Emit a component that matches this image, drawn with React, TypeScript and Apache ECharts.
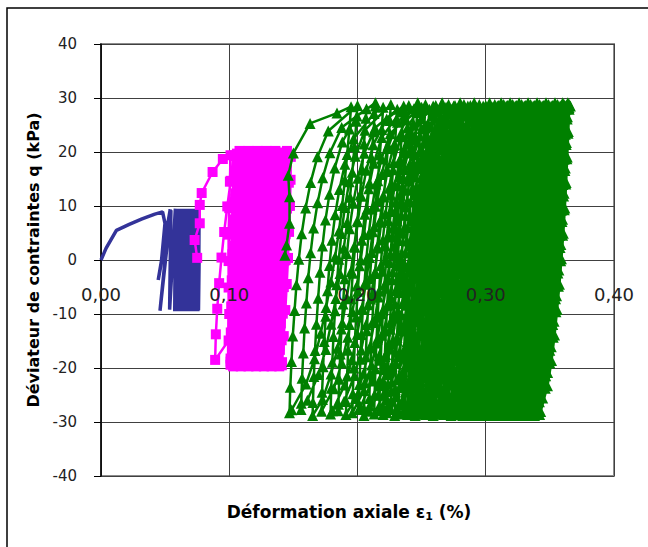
import React, { useEffect, useRef } from 'react';
import * as echarts from 'echarts';

type Pt = [number, number];

// ---- axes ----
const X_MIN = 0;
const X_MAX = 0.4;
const X_STEP = 0.1;
const Y_MIN = -40;
const Y_MAX = 40;
const Y_STEP = 10;
const yAxisTitle = 'Déviateur de contraintes q (kPa)';
const xAxisTitleMain = 'Déformation axiale ε';
const xAxisTitleSub = '1';
const xAxisTitleEnd = ' (%)';

// ---- series 1 (blue, about ±9 kPa) ----
const blueLead: Pt[] = [
  [0, 0], [0.004, 2.2], [0.012, 5.5], [0.022, 6.6], [0.032, 7.6], [0.042, 8.5], [0.048, 8.9],
  [0.0499, 6.8], [0.047, -0.6], [0.0446, -3.7],
];
const blueBottomX = [
  0.046, 0.0535, 0.0575, 0.058, 0.0585, 0.059, 0.0595, 0.060, 0.0605, 0.061, 0.0615, 0.062, 0.0625, 0.063,
  0.0635, 0.064, 0.0645, 0.065, 0.0655, 0.066, 0.0665, 0.067, 0.0675, 0.068, 0.0685, 0.069, 0.0695, 0.070,
  0.0705, 0.071, 0.0715, 0.072, 0.0725, 0.073, 0.0735, 0.074, 0.0745, 0.075, 0.0755, 0.076,
];
const blueTopX = [
  0.054, 0.0545, 0.058, 0.0585, 0.059, 0.0595, 0.060, 0.0605, 0.061, 0.0615, 0.062, 0.0625, 0.063, 0.0635,
  0.064, 0.0645, 0.065, 0.0655, 0.066, 0.0665, 0.067, 0.0675, 0.068, 0.0685, 0.069, 0.0695, 0.070, 0.0705,
  0.071, 0.0715, 0.072, 0.0725, 0.073, 0.0735, 0.074, 0.0745, 0.075, 0.0755, 0.076, 0.0765,
];
const bluePeakQ = [9.4, 9.2, 9.5, 9.3];
const blueTroughQ = [-9.4, -9.2, -9.5, -9.3];
const blueUpShapes: Pt[][] = [[[0, 0], [1, 1]]];
const blueDownShapes: Pt[][] = [[[1, 1], [0, 0]]];
const blueTail: Pt[] = [[0.0765, 0]];

// ---- series 2 (magenta, about ±19.5 kPa) ----
const magentaLead: Pt[] = [
  [0.075, 0.4], [0.073, 3.7], [0.077, 6.8], [0.077, 10.2], [0.0785, 12.4], [0.087, 16.3], [0.095, 18.7], [0.101, 19.4],
  [0.1005, 14.5], [0.1, 9.6], [0.0995, 4.7], [0.0995, -0.2], [0.0995, -5.1], [0.1, -10], [0.0995, -14.9], [0.089, -18.5],
];
const magentaBottomX = [
  0.101, 0.102, 0.103, 0.104, 0.105, 0.106, 0.107, 0.108, 0.109, 0.110, 0.111, 0.112, 0.113, 0.114,
  0.115, 0.116, 0.117, 0.118, 0.119, 0.120, 0.121, 0.122, 0.123, 0.124, 0.125, 0.126, 0.127, 0.128,
  0.129, 0.130, 0.131, 0.132, 0.133, 0.134, 0.135, 0.136, 0.137, 0.138, 0.139, 0.140, 0.141,
];
const magentaTopX = [
  0.104, 0.105, 0.106, 0.107, 0.108, 0.109, 0.110, 0.111, 0.112, 0.113, 0.114, 0.115, 0.116, 0.117,
  0.118, 0.119, 0.120, 0.121, 0.122, 0.123, 0.124, 0.125, 0.126, 0.127, 0.128, 0.129, 0.130, 0.131,
  0.132, 0.133, 0.134, 0.135, 0.136, 0.137, 0.138, 0.139, 0.140, 0.141, 0.143, 0.145, 0.148,
];
const magentaPeakQ = [19.4, 19.2, 19.7, 19.5, 20.2, 19.1, 19.9];
const magentaTroughQ = [-19.4, -19.0, -19.7, -19.2, -19.5, -19.1];
const magentaUpShapes: Pt[][] = [
  [[0, 0], [0.036, 0.125], [0.109, 0.25], [0.208, 0.375], [0.33, 0.5], [0.47, 0.625], [0.631, 0.75], [0.808, 0.875], [1, 1]],
  [[0, 0], [0.004, 0.03], [0.05, 0.155], [0.13, 0.28], [0.235, 0.405], [0.362, 0.53], [0.508, 0.655], [0.672, 0.78], [0.853, 0.905], [1, 1]],
  [[0, 0], [0.011, 0.06], [0.067, 0.185], [0.154, 0.31], [0.264, 0.435], [0.395, 0.56], [0.546, 0.685], [0.714, 0.81], [0.898, 0.935], [1, 1]],
  [[0, 0], [0.023, 0.095], [0.089, 0.22], [0.18, 0.345], [0.3, 0.47], [0.436, 0.595], [0.591, 0.72], [0.764, 0.845], [0.953, 0.97], [1, 1]],
];
const magentaDownShapes: Pt[][] = [
  [[1, 1], [0.971, 0.89], [0.901, 0.765], [0.805, 0.64], [0.686, 0.515], [0.547, 0.39], [0.389, 0.265], [0.214, 0.14], [0.024, 0.015], [0, 0]],
  [[1, 1], [0.982, 0.92], [0.921, 0.795], [0.83, 0.67], [0.716, 0.545], [0.582, 0.42], [0.428, 0.295], [0.258, 0.17], [0.071, 0.045], [0, 0]],
  [[1, 1], [0.992, 0.953], [0.94, 0.828], [0.857, 0.703], [0.749, 0.578], [0.619, 0.453], [0.471, 0.328], [0.304, 0.203], [0.122, 0.078], [0, 0]],
  [[1, 1], [0.999, 0.985], [0.957, 0.86], [0.881, 0.735], [0.778, 0.61], [0.654, 0.485], [0.51, 0.36], [0.349, 0.235], [0.17, 0.11], [0, 0]],
];
const magentaTail: Pt[] = [[0.146, 10], [0.144, 0]];

// ---- series 3 (green, about ±28.5 kPa) ----
const greenLead: Pt[] = [
  [0.1434, 0.9], [0.1447, 2.8], [0.147, 6.8], [0.147, 11.7], [0.146, 15.7], [0.150, 19.8], [0.163, 25.3], [0.184, 27.2], [0.195, 28.4],
];
const greenBottomX = [
  0.147, 0.156, 0.165, 0.172, 0.179, 0.185, 0.191, 0.196, 0.201, 0.205,
  0.209, 0.213, 0.217, 0.220, 0.223, 0.226, 0.229, 0.232, 0.235, 0.237,
  0.239, 0.241, 0.243, 0.245, 0.247, 0.249, 0.251, 0.253, 0.255, 0.257,
  0.259, 0.261, 0.263, 0.265, 0.267, 0.269, 0.271, 0.273, 0.275, 0.277,
  0.278, 0.279, 0.280, 0.281, 0.282, 0.283, 0.284, 0.285, 0.286, 0.287,
  0.288, 0.289, 0.290, 0.291, 0.292, 0.293, 0.294, 0.295, 0.296, 0.297,
  0.298, 0.299, 0.300, 0.301, 0.302, 0.303, 0.304, 0.305, 0.306, 0.307,
  0.308, 0.309, 0.310, 0.311, 0.312, 0.313, 0.314, 0.315, 0.316, 0.317,
  0.318, 0.319, 0.320, 0.321, 0.322, 0.323, 0.324, 0.325, 0.326, 0.327,
  0.328, 0.329, 0.330, 0.331, 0.332, 0.333, 0.334, 0.335, 0.336, 0.337,
  0.338, 0.339, 0.340, 0.341, 0.342,
];
const greenTopX = [
  0.200, 0.207, 0.214, 0.220, 0.226, 0.231, 0.236, 0.240, 0.244, 0.247,
  0.250, 0.253, 0.256, 0.259, 0.261, 0.264, 0.266, 0.269, 0.271, 0.273,
  0.275, 0.276, 0.278, 0.280, 0.281, 0.283, 0.285, 0.286, 0.288, 0.290,
  0.291, 0.293, 0.295, 0.296, 0.298, 0.300, 0.301, 0.303, 0.305, 0.307,
  0.308, 0.309, 0.310, 0.311, 0.312, 0.313, 0.314, 0.315, 0.316, 0.317,
  0.318, 0.319, 0.320, 0.321, 0.322, 0.323, 0.324, 0.325, 0.326, 0.327,
  0.328, 0.329, 0.330, 0.331, 0.332, 0.333, 0.334, 0.335, 0.336, 0.337,
  0.338, 0.339, 0.340, 0.341, 0.342, 0.343, 0.344, 0.345, 0.346, 0.347,
  0.348, 0.349, 0.350, 0.351, 0.352, 0.353, 0.354, 0.355, 0.356, 0.357,
  0.358, 0.359, 0.360, 0.360, 0.361, 0.361, 0.362, 0.362, 0.363, 0.363,
  0.364, 0.364, 0.365, 0.365, 0.366,
];
const greenPeakQ = [28.6, 28.0, 29.1, 28.3, 28.8, 27.9, 28.5];
const greenTroughQ = [-28.3, -27.7, -28.8, -28.0, -28.5, -27.9, -28.6];
const greenUpShapes: Pt[][] = [
  [[0, 0], [0.011, 0.083], [0.029, 0.167], [0.048, 0.25], [0.074, 0.333], [0.102, 0.417], [0.137, 0.5], [0.179, 0.583], [0.237, 0.667], [0.31, 0.75], [0.41, 0.833], [0.57, 0.917], [1, 1]],
  [[0, 0], [0.003, 0.021], [0.015, 0.104], [0.034, 0.188], [0.054, 0.271], [0.081, 0.354], [0.109, 0.438], [0.146, 0.521], [0.191, 0.604], [0.253, 0.688], [0.331, 0.771], [0.441, 0.854], [0.621, 0.938], [1, 1]],
  [[0, 0], [0.005, 0.042], [0.02, 0.125], [0.038, 0.208], [0.061, 0.292], [0.088, 0.375], [0.118, 0.458], [0.157, 0.542], [0.204, 0.625], [0.268, 0.708], [0.352, 0.792], [0.473, 0.875], [0.706, 0.958], [1, 1]],
  [[0, 0], [0.008, 0.062], [0.025, 0.146], [0.043, 0.229], [0.067, 0.312], [0.095, 0.396], [0.127, 0.479], [0.168, 0.562], [0.22, 0.646], [0.289, 0.729], [0.378, 0.812], [0.519, 0.896], [0.853, 0.979], [1, 1]],
];
const greenDownShapes: Pt[][] = [
  [[1, 1], [0.973, 0.927], [0.936, 0.844], [0.899, 0.76], [0.855, 0.677], [0.803, 0.594], [0.741, 0.51], [0.672, 0.427], [0.594, 0.344], [0.507, 0.26], [0.406, 0.177], [0.268, 0.094], [0.036, 0.01], [0, 0]],
  [[1, 1], [0.98, 0.948], [0.946, 0.865], [0.908, 0.781], [0.867, 0.698], [0.817, 0.615], [0.757, 0.531], [0.69, 0.448], [0.615, 0.365], [0.53, 0.281], [0.437, 0.198], [0.31, 0.115], [0.112, 0.031], [0, 0]],
  [[1, 1], [0.988, 0.969], [0.954, 0.885], [0.918, 0.802], [0.878, 0.719], [0.83, 0.635], [0.774, 0.552], [0.709, 0.469], [0.634, 0.385], [0.552, 0.302], [0.461, 0.219], [0.343, 0.135], [0.184, 0.052], [0, 0]],
  [[1, 1], [0.996, 0.99], [0.964, 0.906], [0.927, 0.823], [0.89, 0.74], [0.843, 0.656], [0.789, 0.573], [0.726, 0.49], [0.653, 0.406], [0.573, 0.323], [0.484, 0.24], [0.374, 0.156], [0.226, 0.073], [0, 0]],
];
const greenTail: Pt[] = [];

// Joins the read cycle extremes (bottom/top strain and stress) along the read branch shapes.
function buildCycles(
  lead: Pt[], bottomsX: number[], topsX: number[], peaks: number[], troughs: number[],
  ups: Pt[][], downs: Pt[][], tail: Pt[], leadEndsAtTop: boolean,
): Pt[] {
  const r = (v: number) => Math.round(v * 100000) / 100000;
  const pts: Pt[] = lead.map((p) => [p[0], p[1]] as Pt);
  let cur: Pt = lead[lead.length - 1];
  let nu = 0;
  let nd = 0;
  const goUp = (to: Pt) => {
    const s = ups[nu++ % ups.length];
    for (let i = 1; i < s.length; i++) {
      const [xf, qf] = s[i];
      pts.push([r(cur[0] + (to[0] - cur[0]) * xf), r(cur[1] + (to[1] - cur[1]) * qf)]);
    }
    cur = to;
  };
  const goDown = (to: Pt) => {
    const s = downs[nd++ % downs.length];
    for (let i = 1; i < s.length; i++) {
      const [xf, qf] = s[i];
      pts.push([r(to[0] + (cur[0] - to[0]) * xf), r(to[1] + (cur[1] - to[1]) * qf)]);
    }
    cur = to;
  };
  const n = Math.min(bottomsX.length, topsX.length);
  for (let k = 0; k < n; k++) {
    const bot: Pt = [bottomsX[k], troughs[k % troughs.length]];
    const top: Pt = [topsX[k], peaks[k % peaks.length]];
    if (leadEndsAtTop) { goDown(bot); goUp(top); } else { goUp(top); goDown(bot); }
  }
  tail.forEach((p) => pts.push([p[0], p[1]]));
  return pts;
}

const FONT = "'DejaVu Sans', 'Liberation Sans', Arial, sans-serif";

export default function App() {
  const ref = useRef<HTMLDivElement>(null);

  useEffect(() => {
    document.body.style.margin = '0';
    if (!ref.current) return;
    const chart = echarts.init(ref.current, undefined, { renderer: 'svg' });

    const blueData = buildCycles(blueLead, blueBottomX, blueTopX, bluePeakQ, blueTroughQ, blueUpShapes, blueDownShapes, blueTail, false);
    const magentaData = buildCycles(magentaLead, magentaBottomX, magentaTopX, magentaPeakQ, magentaTroughQ, magentaUpShapes, magentaDownShapes, magentaTail, false);
    const greenData = buildCycles(greenLead, greenBottomX, greenTopX, greenPeakQ, greenTroughQ, greenUpShapes, greenDownShapes, greenTail, true);

    const xLabelFormatter = (v: number) => v.toFixed(2).replace('.', ',');

    const option: any = {
      animation: false,
      backgroundColor: '#ffffff',
      textStyle: { fontFamily: FONT },
      grid: {
        left: 101, top: 44, right: 34, bottom: 71,
        show: true, borderColor: '#8c8c8c', borderWidth: 2, containLabel: false,
      },
      xAxis: [
        {
          type: 'value', min: X_MIN, max: X_MAX, interval: X_STEP,
          axisLine: { show: false, onZero: false },
          axisTick: { show: false },
          axisLabel: { show: false },
          splitLine: { show: true, lineStyle: { color: '#404040', width: 1 } },
          z: 0,
        },
        {
          type: 'value', min: X_MIN, max: X_MAX, interval: X_STEP,
          position: 'bottom', offset: -216,
          axisLine: { show: false, onZero: false },
          axisTick: { show: false },
          axisLabel: {
            margin: 25, fontSize: 18, color: '#222', fontFamily: FONT,
            formatter: xLabelFormatter,
          },
          splitLine: { show: false },
          z: 10,
        },
      ],
      yAxis: {
        type: 'value', min: Y_MIN, max: Y_MAX, interval: Y_STEP,
        name: yAxisTitle, nameLocation: 'middle', nameGap: 57,
        nameTextStyle: { fontSize: 16, fontWeight: 'bold', color: '#000', fontFamily: FONT },
        axisLine: { show: true, onZero: false, lineStyle: { color: '#000', width: 1.5 } },
        axisTick: { show: true, inside: false, length: 7, lineStyle: { color: '#000', width: 1 } },
        axisLabel: { margin: 24, fontSize: 15, color: '#222', fontFamily: FONT },
        splitLine: { show: true, lineStyle: { color: '#404040', width: 1 } },
      },
      graphic: [
        {
          type: 'rect', silent: true, z: -10,
          shape: { x: 7, y: 8, width: 700, height: 700 },
          style: { fill: 'none', stroke: '#000', lineWidth: 1.5 },
        },
        {
          type: 'text', x: 349, y: 512, silent: true,
          style: {
            text: `{a|${xAxisTitleMain}}{s|${xAxisTitleSub}}{a|${xAxisTitleEnd}}`,
            textAlign: 'center', textVerticalAlign: 'middle',
            align: 'center', verticalAlign: 'middle',
            rich: {
              a: { fontSize: 17, fontWeight: 'bold', fontFamily: FONT, fill: '#000', color: '#000', lineHeight: 20 },
              s: { fontSize: 11, fontWeight: 'bold', fontFamily: FONT, fill: '#000', color: '#000', lineHeight: 20, verticalAlign: 'bottom', padding: [8, 0, 0, 0] },
            },
          },
        },
      ],
      series: [
        {
          name: 'blue', type: 'line', data: blueData, symbol: 'none',
          lineStyle: { color: '#333399', width: 3.5 }, itemStyle: { color: '#333399' },
          z: 2,
        },
        {
          name: 'magenta', type: 'line', data: magentaData, symbol: 'rect', symbolSize: 10,
          lineStyle: { color: '#ff00ff', width: 2.5 }, itemStyle: { color: '#ff00ff' },
          z: 3,
        },
        {
          name: 'green', type: 'line', data: greenData, symbol: 'triangle', symbolSize: 11,
          lineStyle: { color: '#008000', width: 2.5 }, itemStyle: { color: '#008000' },
          z: 4,
        },
      ],
    };
    chart.setOption(option);
    return () => chart.dispose();
  }, []);

  return <div ref={ref} style={{ width: 648, height: 547 }} />;
}
